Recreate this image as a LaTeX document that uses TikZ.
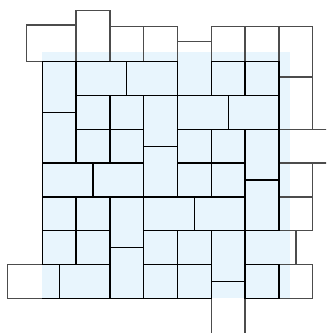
\documentclass[tikz,border=0pt]{standalone}
\usepackage{tikz}
\usetikzlibrary{backgrounds}
\definecolor{floorblue}{RGB}{232,245,253}
\tikzset{
    % Tiles
    tile/.style      = {draw=black, line width=0.7pt},
    outertile/.style = {draw=black!70, line width=0.7pt},
    % Background
    floor/.style     = {fill=floorblue, draw=none}
}

\begin{document}
\begin{tikzpicture}[x=0.3cm, y=-0.3cm]

    % Frame of the picture
    \useasboundingbox (-2.503,-3.651) rectangle (16.787,16.053);
    \clip (-2.503,-3.651) rectangle (16.787,16.053);

    % Floor under the tiles
    \fill [floor] (0,-0.57) rectangle (14.66,14);

    % --- Tiles sticking out (top row) ---
    \draw [outertile] (-0.92,-2.17) rectangle (2,0);
    \draw [outertile] (2,-3.04) rectangle (4,0);
    \draw [outertile] (4,-2.07) rectangle (6,0);
    \draw [outertile] (6,-2.07) rectangle (8,0);
    \draw [outertile] (8,-1.18) rectangle (10,2);
    \draw [outertile] (10,-2.07) rectangle (12,0);
    \draw [outertile] (12,-2.07) rectangle (14,0);

    % --- Tiles sticking out (right column) ---
    \draw [outertile] (14,-2.07) rectangle (16,0.9);
    \draw [outertile] (14,0.9) rectangle (16,4);
    \draw [outertile] (14,4) rectangle (17,6);
    \draw [outertile] (14,6) rectangle (16,8);
    \draw [outertile] (14,8) rectangle (16,10);
    \draw [outertile] (12,10) rectangle (15,12);
    \draw [outertile] (14,12) rectangle (16,14);

    % --- Tiles sticking out (bottom) ---
    \draw [outertile] (-2.07,12) rectangle (1,14);
    \draw [outertile] (10,13) rectangle (12,16.5);

    % --- Inner tiles, row by row ---
    \draw [tile] (0,0) rectangle (2,3);
    \draw [tile] (2,0) rectangle (5,2);
    \draw [tile] (5,0) rectangle (8,2);
    \draw [tile] (8,0) -- (8,2) -- (10,2) -- (10,0);
    \draw [tile] (10,0) rectangle (12,2);
    \draw [tile] (12,0) rectangle (14,2);

    \draw [tile] (2,2) rectangle (4,4);
    \draw [tile] (4,2) rectangle (6,4);
    \draw [tile] (6,2) rectangle (8,5);
    \draw [tile] (8,2) rectangle (11,4);
    \draw [tile] (11,2) rectangle (14,4);

    \draw [tile] (0,3) rectangle (2,6);
    \draw [tile] (2,4) rectangle (4,6);
    \draw [tile] (4,4) rectangle (6,6);
    \draw [tile] (6,5) rectangle (8,8);
    \draw [tile] (8,4) rectangle (10,6);
    \draw [tile] (10,4) rectangle (12,6);
    \draw [tile] (12,4) rectangle (14,7);

    \draw [tile] (0,6) rectangle (3,8);
    \draw [tile] (3,6) rectangle (6,8);
    \draw [tile] (8,6) rectangle (10,8);
    \draw [tile] (10,6) rectangle (12,8);
    \draw [tile] (12,7) rectangle (14,10);

    \draw [tile] (0,8) rectangle (2,10);
    \draw [tile] (2,8) rectangle (4,10);
    \draw [tile] (4,8) rectangle (6,11);
    \draw [tile] (6,8) rectangle (9,10);
    \draw [tile] (9,8) rectangle (12,10);

    \draw [tile] (0,10) rectangle (2,12);
    \draw [tile] (2,10) rectangle (4,12);
    \draw [tile] (4,11) rectangle (6,14);
    \draw [tile] (6,10) rectangle (8,12);
    \draw [tile] (8,10) rectangle (10,12);
    \draw [tile] (10,10) rectangle (12,13);
    \draw [tile] (12,10) -- (12,12) -- (14,12);

    \draw [tile] (1,12) rectangle (4,14);
    \draw [tile] (6,12) rectangle (8,14);
    \draw [tile] (8,12) rectangle (10,14);
    \draw [tile] (12,12) rectangle (14,14);
    \draw [tile] (0,14) -- (1,14);

\end{tikzpicture}
\end{document}
